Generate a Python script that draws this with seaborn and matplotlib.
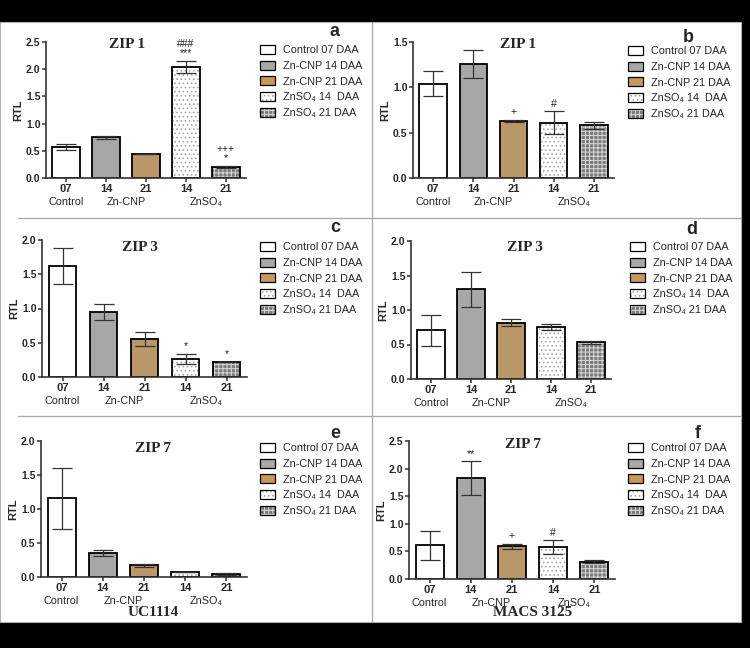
import matplotlib
matplotlib.use("Agg")
import matplotlib.pyplot as plt
from matplotlib.patches import Patch, Rectangle
from matplotlib.lines import Line2D
import seaborn as sns
import pandas as pd

# ---------------- data ----------------
categories = ["Control 07 DAA", "Zn-CNP 14 DAA", "Zn-CNP 21 DAA",
              "ZnSO\u2084 14  DAA", "ZnSO\u2084 21 DAA"]
tick_labels = ["07", "14", "21", "14", "21"]
group_labels = ["Control", "Zn-CNP", "ZnSO\u2084"]

zip1_uc = [0.57, 0.75, 0.435, 2.04, 0.20]
zip1_uc_err = [0.06, 0.03, 0.0, 0.11, 0.02]
zip1_macs = [1.04, 1.26, 0.63, 0.61, 0.58]
zip1_macs_err = [0.135, 0.155, 0.015, 0.125, 0.035]
zip3_uc = [1.625, 0.946, 0.553, 0.266, 0.218]
zip3_uc_err = [0.265, 0.12, 0.10, 0.07, 0.0]
zip3_macs = [0.704, 1.30, 0.814, 0.75, 0.53]
zip3_macs_err = [0.22, 0.255, 0.05, 0.04, 0.02]
zip7_uc = [1.158, 0.357, 0.17, 0.078, 0.05]
zip7_uc_err = [0.45, 0.045, 0.02, 0.0, 0.015]
zip7_macs = [0.61, 1.83, 0.59, 0.578, 0.313]
zip7_macs_err = [0.26, 0.30, 0.05, 0.12, 0.025]

marks_a = ["", "", "", "###\n***", "+++\n*"]
marks_b = ["", "", "+", "#", ""]
marks_c = ["", "", "", "*", "*"]
marks_d = ["", "", "", "", ""]
marks_e = ["", "", "", "", ""]
marks_f = ["", "**", "+", "#", ""]

titles = ["ZIP 1", "ZIP 1", "ZIP 3", "ZIP 3", "ZIP 7", "ZIP 7"]
letters = ["a", "b", "c", "d", "e", "f"]
cultivars = ["UC1114", "MACS 3125"]

# ---------------- style ----------------
sns.set_theme(style="ticks")
plt.rcParams["font.family"] = ["Liberation Sans", "DejaVu Sans"]
plt.rcParams["hatch.linewidth"] = 0.7

face_colors = ["#ffffff", "#a7a7aa", "#c6995b", "#ffffff", "#7c7c7c"]
hatches = [None, None, None, "....", "++++"]
hatch_colors = [None, None, None, "#a8a8a8", "#d8d8d8"]

W, H = 750, 648
fig = plt.figure(figsize=(W / 100, H / 100), dpi=100, facecolor="black")

# white page area
fig.patches.append(Rectangle((0, 1 - 622 / H), 741 / W, (622 - 22) / H,
                             transform=fig.transFigure, facecolor="white",
                             edgecolor="#b0b0b0", lw=0.8, zorder=-10))
# panel dividers
fig.add_artist(Line2D([372 / W, 372 / W], [1 - 22 / H, 1 - 622 / H],
                      transform=fig.transFigure, color="#a8a8a8", lw=0.9))
for yy in (218, 416):
    fig.add_artist(Line2D([18 / W, 741 / W], [1 - yy / H, 1 - yy / H],
                          transform=fig.transFigure, color="#a8a8a8", lw=0.9))


def px_axes(l, t, r, b):
    return fig.add_axes([l / W, 1 - b / H, (r - l) / W, (b - t) / H])


panels = [
    dict(box=(46, 42, 246, 178), ymax=2.5, vals=zip1_uc, err=zip1_uc_err, marks=marks_a,
         title=(127, 44), letter=(335, 32), legend=(260, 45)),
    dict(box=(413, 42, 614, 178), ymax=1.5, vals=zip1_macs, err=zip1_macs_err, marks=marks_b,
         title=(518, 44), letter=(688, 38), legend=(628, 46)),
    dict(box=(42, 240, 247, 377), ymax=2.0, vals=zip3_uc, err=zip3_uc_err, marks=marks_c,
         title=(140, 248), letter=(335, 228), legend=(260, 242)),
    dict(box=(411, 241, 611, 379), ymax=2.0, vals=zip3_macs, err=zip3_macs_err, marks=marks_d,
         title=(525, 248), letter=(692, 229), legend=(630, 242)),
    dict(box=(41, 441, 247, 577), ymax=2.0, vals=zip7_uc, err=zip7_uc_err, marks=marks_e,
         title=(153, 449), letter=(335, 433), legend=(260, 443)),
    dict(box=(409, 441, 615, 579), ymax=2.5, vals=zip7_macs, err=zip7_macs_err, marks=marks_f,
         title=(523, 445), letter=(698, 433), legend=(628, 443)),
]


def style_hatched(patch, face, hatch, hcol):
    """Hatch drawn in its own colour; the black outline is drawn separately."""
    patch.set_facecolor(face)
    patch.set_hatch(hatch)
    patch.set_edgecolor(hcol)
    patch.set_linewidth(0)


for i, p in enumerate(panels):
    l, t, r, b = p["box"]
    ax = px_axes(l, t, r, b)
    ax.set_facecolor("none")
    df = pd.DataFrame({"group": categories, "RTL": p["vals"]})
    sns.barplot(data=df, x="group", y="RTL", hue="group", order=categories,
                hue_order=categories, palette=face_colors, width=0.68,
                errorbar=None, legend=False, ax=ax, edgecolor="black",
                linewidth=1.3, zorder=2)
    for patch, face, hatch, hcol in zip(list(ax.patches), face_colors, hatches, hatch_colors):
        if hatch:
            outline = Rectangle(patch.get_xy(), patch.get_width(), patch.get_height(),
                                facecolor="none", edgecolor="black", lw=1.3, zorder=2.5)
            style_hatched(patch, face, hatch, hcol)
            ax.add_patch(outline)
    ax.errorbar(range(len(categories)), p["vals"], yerr=p["err"], fmt="none",
                ecolor="#333333", elinewidth=0.9, capsize=7, capthick=0.9, zorder=3)
    for k, m in enumerate(p["marks"]):
        if m:
            ax.annotate(m, (k, p["vals"][k] + p["err"][k]), xytext=(0, 2),
                        textcoords="offset points", ha="center", va="bottom",
                        fontsize=7.5, linespacing=0.95, color="#222222")
    ax.set_xlim(-0.5, 4.5)
    ax.set_ylim(0, p["ymax"])
    n = int(round(p["ymax"] / 0.5)) + 1
    ax.set_yticks([x * 0.5 for x in range(n)])
    ax.set_yticklabels([f"{x * 0.5:.1f}" for x in range(n)],
                       fontsize=7.5, fontweight="bold")
    ax.set_xticks(range(len(categories)))
    ax.set_xticklabels(tick_labels, fontsize=8, fontweight="bold")
    ax.tick_params(axis="both", length=3, width=1.1, color="#333333", pad=1)
    ax.set_xlabel("")
    ax.set_ylabel("RTL", fontsize=8, fontweight="bold", labelpad=2)
    sns.despine(ax=ax)
    for s in ("left", "bottom"):
        ax.spines[s].set_linewidth(1.2)
        ax.spines[s].set_color("#333333")
    # group labels under tick numbers
    for gx, gl in zip([0, 1.5, 3.5], group_labels):
        ax.annotate(gl, (gx, 0), xytext=(0, -13.5), textcoords="offset points",
                    xycoords=("data", "axes fraction"), ha="center", va="top",
                    fontsize=7.8)
    # title
    tx, ty = p["title"]
    fig.text(tx / W, 1 - ty / H, titles[i], ha="center", va="center",
             fontsize=11, fontweight="bold", family=["Liberation Serif", "DejaVu Serif"])
    lx, ly = p["letter"]
    fig.text(lx / W, 1 - ly / H, letters[i], ha="center", va="center",
             fontsize=13, fontweight="bold")
    handles = []
    for c, h, hc in zip(face_colors, hatches, hatch_colors):
        if h:
            handles.append((Patch(facecolor=c, edgecolor=hc, hatch=h, lw=0),
                            Patch(facecolor="none", edgecolor="black", lw=0.9)))
        else:
            handles.append(Patch(facecolor=c, edgecolor="black", lw=0.9))
    gx, gy = p["legend"]
    fig.legend(handles, categories, loc="upper left",
               bbox_to_anchor=(gx / W, 1 - gy / H), frameon=False,
               fontsize=7.8, handlelength=1.35, handleheight=0.9,
               handletextpad=0.75, labelspacing=0.5, borderpad=0,
               borderaxespad=0)

# cultivar labels
fig.text(153 / W, 1 - 613 / H, cultivars[0], ha="center", va="center",
         fontsize=11, fontweight="bold", family=["Liberation Serif", "DejaVu Serif"])
fig.text(533 / W, 1 - 613 / H, cultivars[1], ha="center", va="center",
         fontsize=11, fontweight="bold", family=["Liberation Serif", "DejaVu Serif"])

fig.savefig("out.png", dpi=100, facecolor=fig.get_facecolor())
